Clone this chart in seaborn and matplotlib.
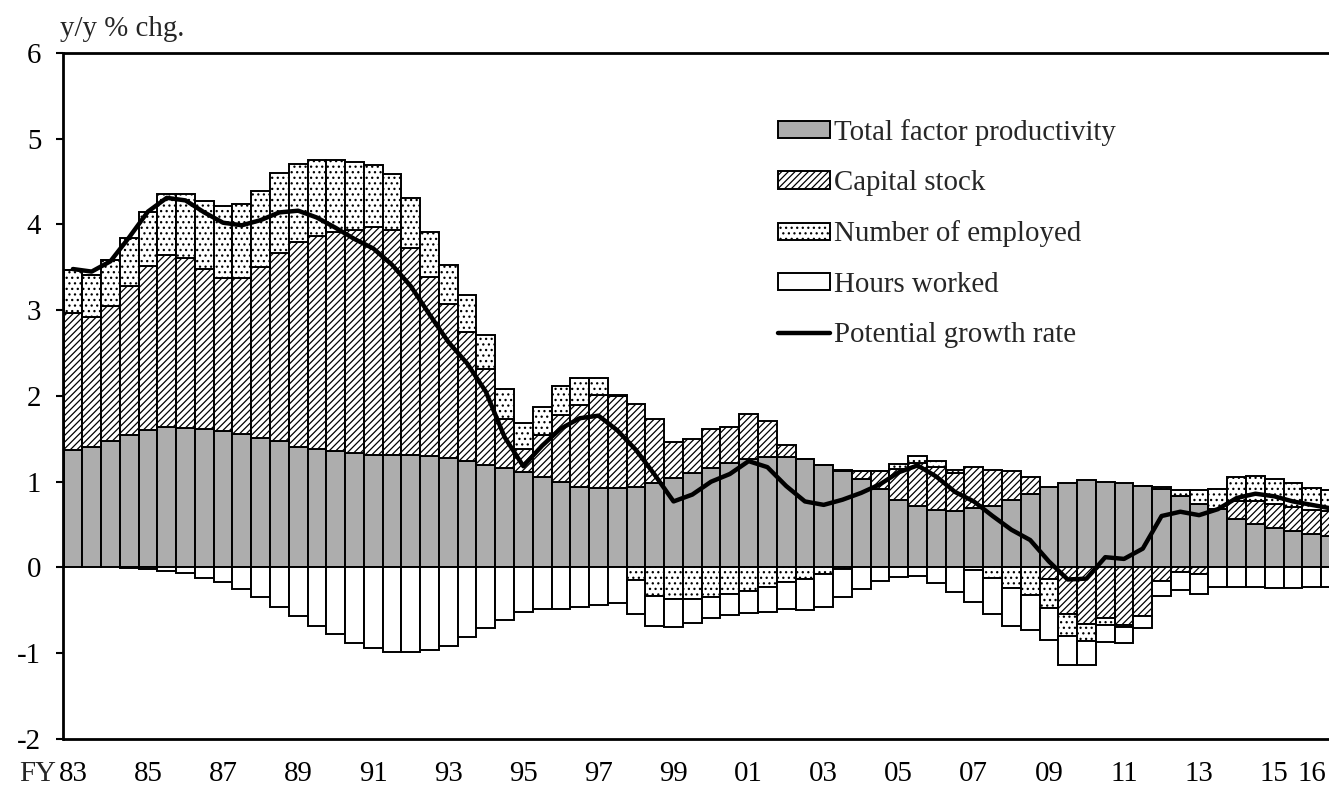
import numpy as np
import pandas as pd
import matplotlib
matplotlib.use("Agg")
import matplotlib.pyplot as plt
import seaborn as sns

# ---------------- DATA (half-year, FY83 H1 .. FY16 H2) ----------------
years = list(range(1983, 2017))
periods = [f"{y}H{h}" for y in years for h in (1, 2)]

tfp = [
    1.37, 1.41, 1.48, 1.55, 1.60, 1.64, 1.63, 1.61, 1.59, 1.56,
    1.51, 1.47, 1.41, 1.38, 1.36, 1.34, 1.31, 1.31, 1.31, 1.30,
    1.28, 1.24, 1.20, 1.16, 1.11, 1.06, 1.00, 0.94, 0.93, 0.93,
    0.94, 0.99, 1.04, 1.10, 1.16, 1.22, 1.26, 1.29, 1.29, 1.26,
    1.20, 1.12, 1.03, 0.91, 0.79, 0.72, 0.67, 0.66, 0.69, 0.72,
    0.79, 0.86, 0.94, 0.99, 1.02, 1.00, 0.98, 0.95, 0.92, 0.83,
    0.74, 0.68, 0.56, 0.51, 0.46, 0.42, 0.39, 0.37,
]
capital = [
    1.60, 1.51, 1.57, 1.73, 1.91, 2.00, 1.98, 1.87, 1.79, 1.82,
    1.99, 2.20, 2.39, 2.49, 2.55, 2.59, 2.66, 2.62, 2.42, 2.09,
    1.79, 1.51, 1.11, 0.57, 0.27, 0.49, 0.78, 0.96, 1.08, 1.07,
    0.97, 0.74, 0.42, 0.40, 0.46, 0.42, 0.53, 0.42, 0.14, 0.00,
    0.00, 0.02, 0.09, 0.22, 0.36, 0.50, 0.50, 0.44, 0.48, 0.42,
    0.33, 0.20, -0.14, -0.54, -0.66, -0.59, -0.67, -0.57, -0.16, -0.05,
    -0.08, 0.00, 0.22, 0.26, 0.28, 0.29, 0.28, 0.29,
]
employed = [
    0.50, 0.49, 0.53, 0.56, 0.63, 0.71, 0.74, 0.79, 0.83, 0.86,
    0.89, 0.93, 0.91, 0.88, 0.84, 0.80, 0.72, 0.66, 0.58, 0.52,
    0.46, 0.43, 0.40, 0.35, 0.31, 0.32, 0.34, 0.31, 0.20, 0.01,
    -0.15, -0.33, -0.37, -0.37, -0.35, -0.31, -0.28, -0.23, -0.17, -0.14,
    -0.08, -0.02, 0.00, 0.00, 0.06, 0.08, 0.07, 0.04, -0.03, -0.12,
    -0.24, -0.32, -0.33, -0.26, -0.20, -0.08, -0.02, 0.00, 0.02, 0.07,
    0.16, 0.23, 0.28, 0.30, 0.29, 0.27, 0.26, 0.24,
]
hours = [
    0.00, 0.00, 0.00, -0.01, -0.02, -0.04, -0.07, -0.12, -0.17, -0.25,
    -0.34, -0.46, -0.57, -0.68, -0.78, -0.88, -0.94, -0.98, -0.98, -0.96,
    -0.91, -0.81, -0.71, -0.61, -0.52, -0.48, -0.48, -0.46, -0.44, -0.41,
    -0.39, -0.35, -0.32, -0.28, -0.24, -0.24, -0.25, -0.29, -0.31, -0.36,
    -0.38, -0.33, -0.25, -0.16, -0.11, -0.10, -0.18, -0.29, -0.37, -0.42,
    -0.44, -0.41, -0.38, -0.34, -0.28, -0.20, -0.19, -0.14, -0.17, -0.21,
    -0.23, -0.23, -0.23, -0.23, -0.24, -0.24, -0.23, -0.23,
]
potential = [
    3.48, 3.45, 3.57, 3.85, 4.15, 4.31, 4.28, 4.14, 4.02, 3.99,
    4.05, 4.14, 4.16, 4.08, 3.96, 3.83, 3.72, 3.53, 3.28, 2.95,
    2.63, 2.38, 2.05, 1.52, 1.18, 1.42, 1.62, 1.74, 1.77, 1.60,
    1.37, 1.08, 0.77, 0.85, 1.00, 1.09, 1.24, 1.17, 0.95, 0.77,
    0.73, 0.79, 0.87, 0.97, 1.11, 1.19, 1.06, 0.88, 0.77, 0.60,
    0.44, 0.32, 0.07, -0.14, -0.13, 0.12, 0.10, 0.22, 0.60, 0.65,
    0.61, 0.68, 0.81, 0.86, 0.83, 0.77, 0.73, 0.69,
]

tick_years = [1983, 1985, 1987, 1989, 1991, 1993, 1995, 1997, 1999, 2001,
              2003, 2005, 2007, 2009, 2011, 2013, 2015, 2016]
tick_labels = ["83", "85", "87", "89", "91", "93", "95", "97", "99", "01",
               "03", "05", "07", "09", "11", "13", "15", "16"]

df = pd.DataFrame({
    "period": periods,
    "tfp": tfp,
    "capital": capital,
    "employed": employed,
    "hours": hours,
    "potential": potential,
})
df["x"] = np.arange(len(df))

# ---------------- STYLE ----------------
sns.set_theme(style="white")
plt.rcParams["font.family"] = ["Liberation Serif", "DejaVu Serif"]
plt.rcParams["axes.unicode_minus"] = False
plt.rcParams["hatch.linewidth"] = 0.9
plt.rcParams["hatch.color"] = "black"

FS = 20.8
W, H = 1329, 785
fig = plt.figure(figsize=(W / 100, H / 100), dpi=100)
ax = fig.add_axes([63.5 / W, 46 / H, 1 - 63.5 / W, (739 - 52.9) / H])

series = [
    ("tfp", "Total factor productivity", "#adadad", None),
    ("capital", "Capital stock", "white", "/////"),
    ("employed", "Number of employed", "white", "..."),
    ("hours", "Hours worked", "white", None),
]

pos_bottom = np.zeros(len(df))
neg_bottom = np.zeros(len(df))
for col, label, color, hatch in series:
    vals = df[col].to_numpy()
    bottom = np.where(vals >= 0, pos_bottom, neg_bottom)
    ax.bar(df["x"], vals, width=1.0, bottom=bottom, color=color,
           edgecolor="black", linewidth=1.4, hatch=hatch, label=label,
           zorder=2)
    pos_bottom += np.clip(vals, 0, None)
    neg_bottom += np.clip(vals, None, 0)

sns.lineplot(data=df, x="x", y="potential", color="black", linewidth=3.2,
             ax=ax, label="Potential growth rate", zorder=4, legend=False)

# ---------------- AXES ----------------
ax.set_xlim(-0.5, 66.92)
ax.set_ylim(-2, 6)
ax.set_yticks(range(-2, 7))
ax.set_yticklabels([str(v) for v in range(-2, 7)])
ax.set_xlabel("")
ax.set_ylabel("")

# year boundary ticks (inside), labels under first half of each year
ax.set_xticks(np.arange(1.5, 66, 2))
ax.set_xticklabels([])
label_pos = [periods.index(f"{y}H1") for y in tick_years]
ax.set_xticks(label_pos, minor=True)
ax.set_xticklabels(tick_labels, minor=True)

ax.tick_params(axis="x", which="major", direction="in", length=7, width=1.5,
               color="black")
ax.tick_params(axis="x", which="minor", length=0, pad=16, labelsize=FS,
               labelcolor="black")
ax.tick_params(axis="y", direction="out", length=5, width=1.5, pad=11,
               labelsize=FS, labelcolor="black", color="black", left=True)

for side in ["left", "bottom", "top"]:
    ax.spines[side].set_visible(True)
    ax.spines[side].set_color("black")
    ax.spines[side].set_linewidth(2)
ax.spines["right"].set_visible(False)
ax.grid(False)

fig.text(56 / W, 1 - 774 / H, "FY", ha="right", va="center", fontsize=FS)
fig.text(60 / W, 1 - 29 / H, "y/y % chg.", ha="left", va="center",
         fontsize=FS)

handles, labels = ax.get_legend_handles_labels()
order = [labels.index(s[1]) for s in series] + [labels.index("Potential growth rate")]
ax.legend([handles[i] for i in order], [labels[i] for i in order],
          loc="upper left",
          bbox_to_anchor=(778 / W, 1 - 119 / H), bbox_transform=fig.transFigure,
          frameon=False, fontsize=FS, handlelength=1.8, handleheight=0.55,
          handletextpad=0.15, labelspacing=0.84, borderpad=0,
          borderaxespad=0)

fig.savefig("out.png", dpi=100)
